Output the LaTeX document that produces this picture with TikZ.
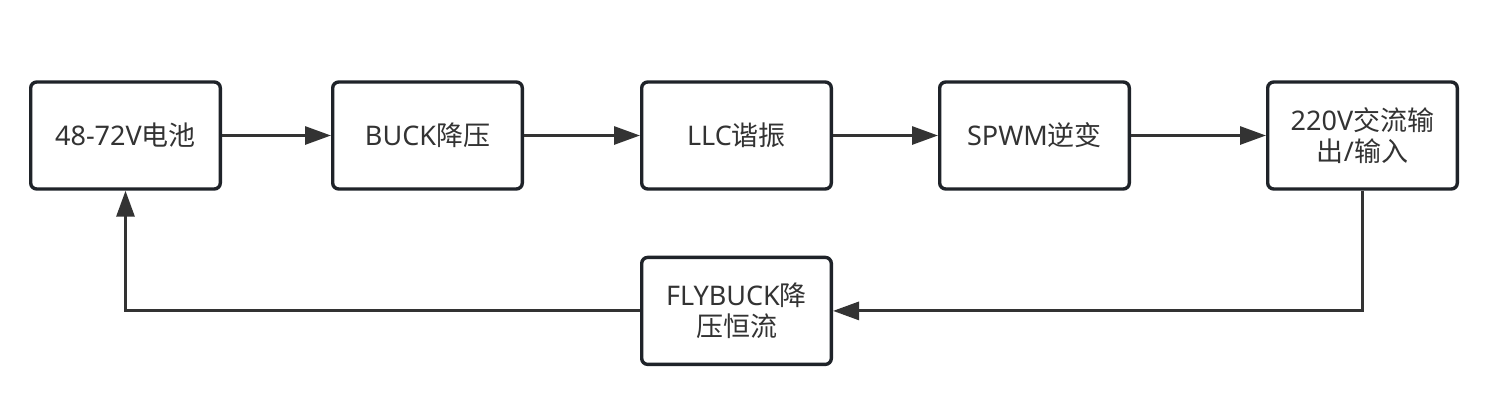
\documentclass[tikz,border=0pt]{standalone}
\usepackage{fontspec}
\setmainfont{Noto Sans}
\newfontfamily\cjk{Noto Sans CJK SC}
\usetikzlibrary{arrows.meta,positioning}
\definecolor{blkLine}{HTML}{1F2329}
\definecolor{blkArrow}{HTML}{333333}
\definecolor{blkText}{HTML}{333333}
\tikzset{
  blk/.style={
    draw=blkLine, line width=1.7pt, rounded corners=3pt, fill=white,
    minimum width=94.8pt, minimum height=53.5pt, align=center, inner sep=2pt,
    text=blkText, font=\fontsize{13.5}{15.5}\selectfont
  },
  sig/.style={-{Triangle[length=13pt, width=9pt]}, line width=1.5pt, draw=blkArrow}
}

\begin{document}
\begin{tikzpicture}
  \useasboundingbox (0,0) rectangle (750.5pt,-206.5pt);
  \node[blk] (bat) at (62.75pt,-67.75pt) {48-72V{\cjk 电池}};
  \node[blk, right=54.5pt of bat] (buck) {BUCK{\cjk 降压}};
  \node[blk, right=58pt of buck] (llc) {LLC{\cjk 谐振}};
  \node[blk, right=52.5pt of llc] (spwm) {SPWM{\cjk 逆变}};
  \node[blk, right=67.5pt of spwm] (ac) {220V{\cjk 交流输}\\{\cjk 出}/{\cjk 输入}};
  \node[blk, below=32.5pt of llc] (fly) {FLYBUCK{\cjk 降}\\{\cjk 压恒流}};
  \draw[sig] (bat) -- (buck);
  \draw[sig] (buck) -- (llc);
  \draw[sig] (llc) -- (spwm);
  \draw[sig] (spwm) -- (ac);
  % feedback loop
  \draw[sig] (ac.south) |- (fly.east);
  \draw[sig] (fly.west) -| (bat.south);
\end{tikzpicture}
\end{document}
